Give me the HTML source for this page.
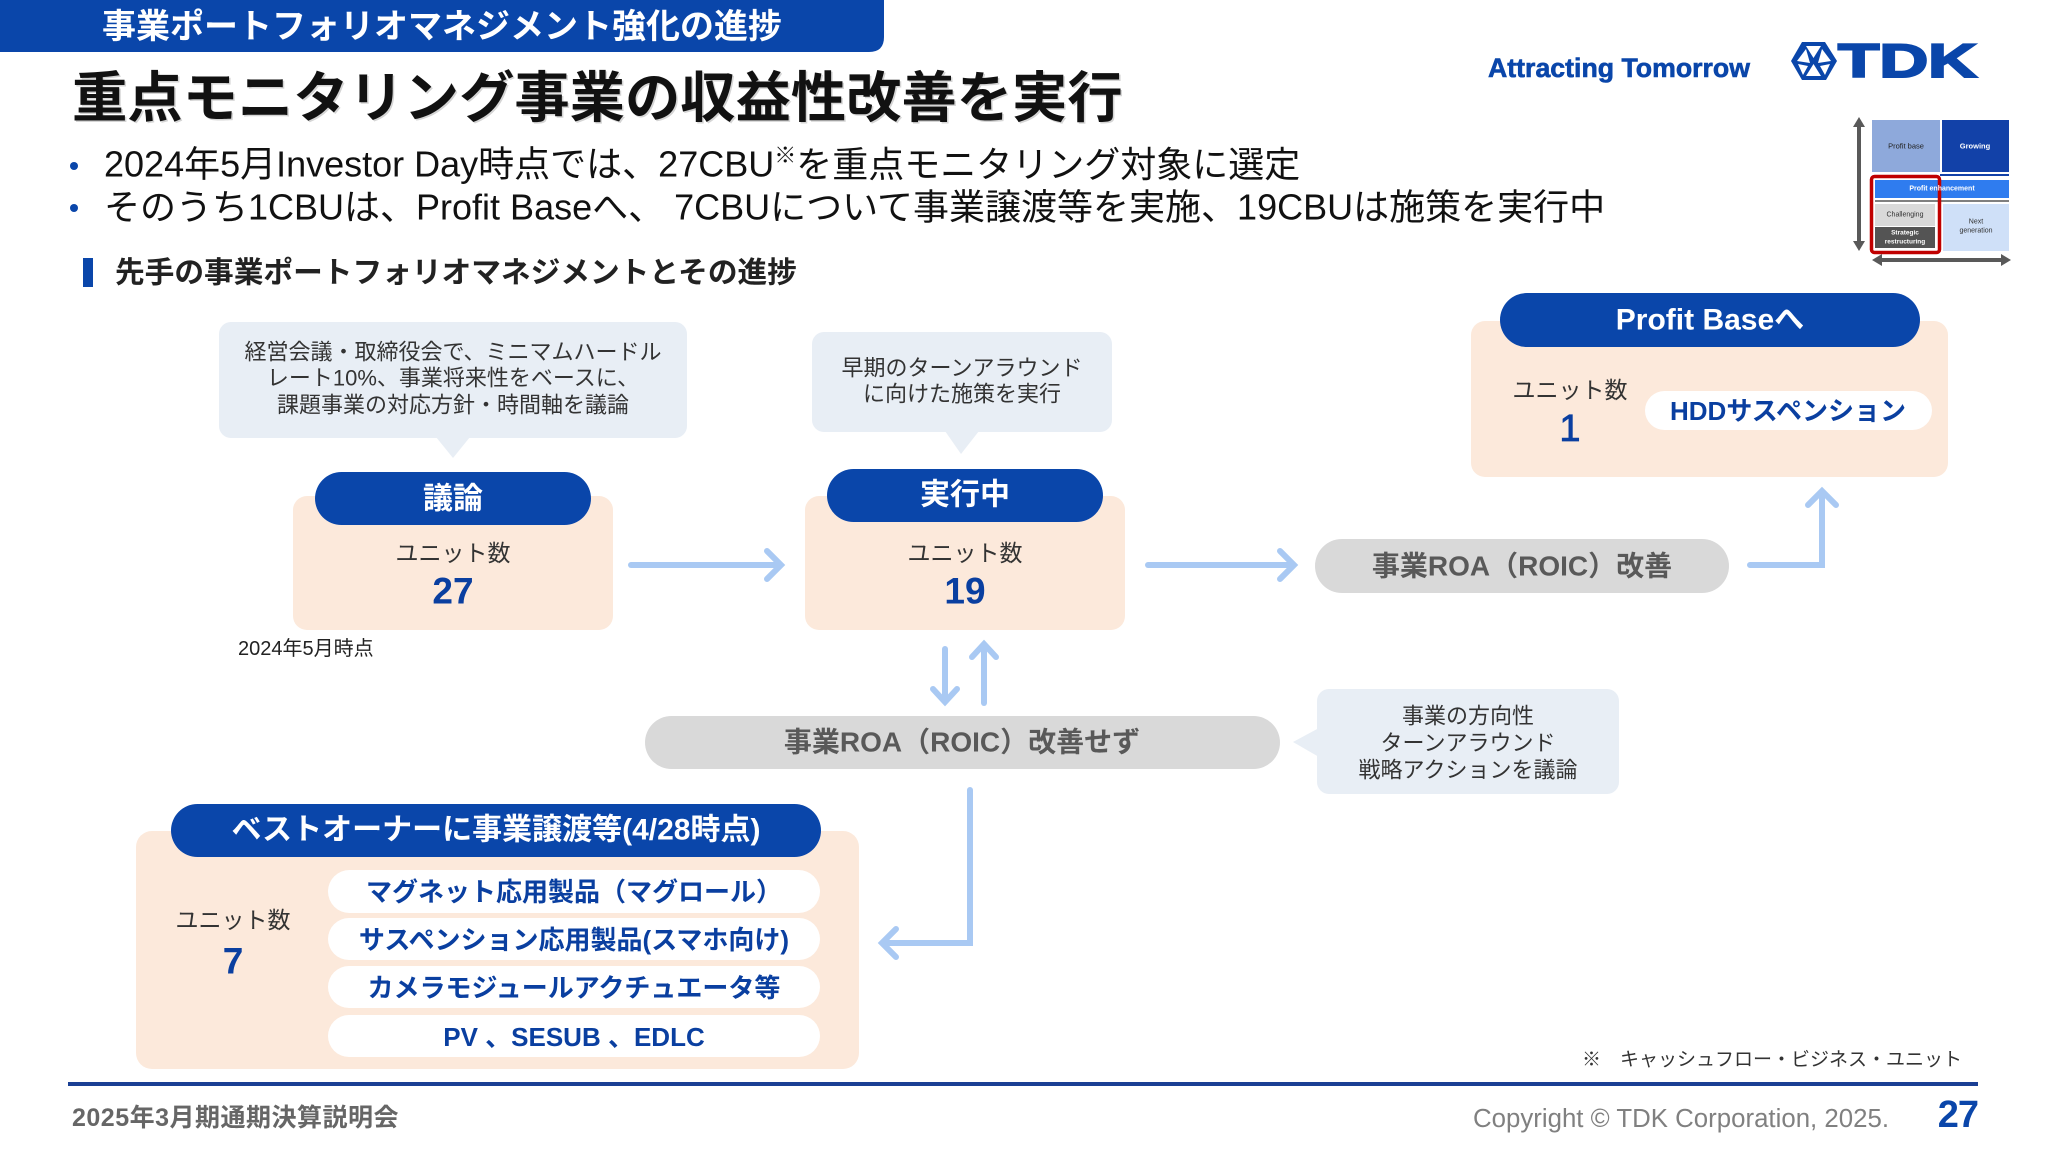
<!DOCTYPE html>
<html><head><meta charset="utf-8">
<style>
html,body{margin:0;padding:0;background:#fff;}
svg{display:block;}
text{font-family:"Liberation Sans","Noto Sans CJK JP",sans-serif;}
</style></head><body>
<svg width="2048" height="1152" viewBox="0 0 2048 1152" xmlns="http://www.w3.org/2000/svg">
<rect width="2048" height="1152" fill="#ffffff"/>

<!-- header tab -->
<path d="M0 0 H884 V37 Q884 52 869 52 H0 Z" fill="#0a46aa"/>
<text x="102" y="27" font-size="34" font-weight="bold" fill="#ffffff" dominant-baseline="central">事業ポートフォリオマネジメント強化の進捗</text>

<!-- title -->
<text x="73.5" y="99.5" font-size="55.3" font-weight="bold" fill="#888" opacity="0.35" dominant-baseline="central">重点モニタリング事業の収益性改善を実行</text>
<text x="72" y="98" font-size="55.3" font-weight="bold" fill="#111" dominant-baseline="central">重点モニタリング事業の収益性改善を実行</text>

<!-- bullets -->
<circle cx="74" cy="166" r="4" fill="#0a46aa"/>
<circle cx="74" cy="208" r="4" fill="#0a46aa"/>
<text x="104" y="164" font-size="36" fill="#111" dominant-baseline="central">2024年5月Investor Day時点では、27CBU<tspan font-size="22" dy="-9">※</tspan><tspan dy="9">を重点モニタリング対象に選定</tspan></text>
<text x="104" y="207" font-size="36" fill="#111" dominant-baseline="central">そのうち1CBUは、Profit Baseへ、 7CBUについて事業譲渡等を実施、19CBUは施策を実行中</text>

<!-- section heading -->
<rect x="83" y="258" width="10" height="29" fill="#0a46aa"/>
<text x="115" y="273" font-size="29.7" font-weight="bold" fill="#222" dominant-baseline="central">先手の事業ポートフォリオマネジメントとその進捗</text>

<!-- Attracting Tomorrow + TDK logo -->
<text x="1488" y="77" font-size="26.5" font-weight="bold" fill="#0a46aa" stroke="#0a46aa" stroke-width="0.6" textLength="262" lengthAdjust="spacingAndGlyphs">Attracting Tomorrow</text>
<g>
  <polygon points="1802,42 1825,42 1837,61 1826,80 1802,80 1791,61" fill="#0a46aa"/>
  <polygon points="1806,46 1821,46 1813.5,58" fill="#fff"/>
  <polygon points="1797,61 1806,49 1810,63" fill="#fff"/>
  <polygon points="1831,61 1822,49 1818,63" fill="#fff"/>
  <polygon points="1806,76 1813.5,64 1821,76" fill="#fff"/>
  <polygon points="1798,64 1808,66 1803,75" fill="#fff"/>
  <polygon points="1830,64 1820,66 1825,75" fill="#fff"/>
</g>
<text x="1838" y="77" font-size="47" font-weight="bold" fill="#0a46aa" stroke="#0a46aa" stroke-width="2" textLength="139" lengthAdjust="spacingAndGlyphs">TDK</text>

<!-- matrix icon -->
<g>
  <rect x="1872" y="120" width="68" height="52" fill="#8ea9db"/>
  <rect x="1942" y="120" width="67" height="52" fill="#1241a8"/>
  <rect x="1940" y="174" width="69" height="2" fill="#1241a8"/>
  <rect x="1875" y="180" width="134" height="18" fill="#2f7cef"/>
  <rect x="1875" y="200" width="134" height="2" fill="#7f7f7f"/>
  <rect x="1875" y="204" width="60" height="22" fill="#d9d9d9"/>
  <rect x="1875" y="227" width="60" height="21" fill="#545454"/>
  <rect x="1943" y="204" width="66" height="47" fill="#cfe0f8"/>
  <rect x="1871.5" y="176.5" width="68" height="76" rx="3" fill="none" stroke="#c00000" stroke-width="3.5"/>
  <text x="1906" y="146" font-size="7.5" fill="#222" text-anchor="middle" dominant-baseline="central">Profit base</text>
  <text x="1975" y="146" font-size="7.5" font-weight="bold" fill="#fff" text-anchor="middle" dominant-baseline="central">Growing</text>
  <text x="1942" y="189" font-size="7" font-weight="bold" fill="#fff" text-anchor="middle" dominant-baseline="central">Profit enhancement</text>
  <text x="1905" y="215" font-size="7" fill="#333" text-anchor="middle" dominant-baseline="central">Challenging</text>
  <text x="1905" y="233" font-size="6.5" font-weight="bold" fill="#fff" text-anchor="middle" dominant-baseline="central">Strategic</text>
  <text x="1905" y="242" font-size="6.5" font-weight="bold" fill="#fff" text-anchor="middle" dominant-baseline="central">restructuring</text>
  <text x="1976" y="222" font-size="7" fill="#333" text-anchor="middle" dominant-baseline="central">Next</text>
  <text x="1976" y="231" font-size="7" fill="#333" text-anchor="middle" dominant-baseline="central">generation</text>
  <line x1="1859" y1="124" x2="1859" y2="244" stroke="#595959" stroke-width="4"/>
  <polygon points="1859,117 1853,127 1865,127" fill="#595959"/>
  <polygon points="1859,251 1853,241 1865,241" fill="#595959"/>
  <line x1="1879" y1="260" x2="2004" y2="260" stroke="#595959" stroke-width="4"/>
  <polygon points="1872,260 1882,254 1882,266" fill="#595959"/>
  <polygon points="2011,260 2001,254 2001,266" fill="#595959"/>
</g>

<!-- callout 1 -->
<rect x="219" y="322" width="468" height="116" rx="12" fill="#e8eef5"/>
<polygon points="436,437 470,437 453,458" fill="#e8eef5"/>
<g font-size="22" fill="#333" text-anchor="middle">
<text x="453" y="352" dominant-baseline="central">経営会議・取締役会で、ミニマムハードル</text>
<text x="453" y="378" dominant-baseline="central">レート10%、事業将来性をベースに、</text>
<text x="453" y="405" dominant-baseline="central">課題事業の対応方針・時間軸を議論</text>
</g>

<!-- callout 2 -->
<rect x="812" y="332" width="300" height="100" rx="12" fill="#e8eef5"/>
<polygon points="945,431 979,431 961,454" fill="#e8eef5"/>
<g font-size="22" fill="#333" text-anchor="middle">
<text x="962" y="368" dominant-baseline="central">早期のターンアラウンド</text>
<text x="962" y="394" dominant-baseline="central">に向けた施策を実行</text>
</g>

<!-- box 1 議論 -->
<rect x="293" y="496" width="320" height="134" rx="14" fill="#fce9db"/>
<rect x="315" y="472" width="276" height="53" rx="26.5" fill="#0a46aa"/>
<text x="453" y="499" font-size="30" font-weight="bold" fill="#fff" text-anchor="middle" dominant-baseline="central">議論</text>
<text x="453" y="553" font-size="23" fill="#333" text-anchor="middle" dominant-baseline="central">ユニット数</text>
<text x="453" y="591" font-size="37" font-weight="bold" fill="#0a3fa0" text-anchor="middle" dominant-baseline="central">27</text>
<text x="238" y="649" font-size="20" fill="#222" dominant-baseline="central">2024年5月時点</text>

<!-- box 2 実行中 -->
<rect x="805" y="496" width="320" height="134" rx="14" fill="#fce9db"/>
<rect x="827" y="469" width="276" height="53" rx="26.5" fill="#0a46aa"/>
<text x="965" y="495" font-size="30" font-weight="bold" fill="#fff" text-anchor="middle" dominant-baseline="central">実行中</text>
<text x="965" y="553" font-size="23" fill="#333" text-anchor="middle" dominant-baseline="central">ユニット数</text>
<text x="965" y="591" font-size="37" font-weight="bold" fill="#0a3fa0" text-anchor="middle" dominant-baseline="central">19</text>

<!-- Profit Base box -->
<rect x="1471" y="321" width="477" height="156" rx="14" fill="#fce9db"/>
<rect x="1500" y="293" width="420" height="54" rx="27" fill="#0a46aa"/>
<text x="1710" y="320" font-size="30" font-weight="bold" fill="#fff" text-anchor="middle" dominant-baseline="central">Profit Baseへ</text>
<text x="1570" y="390" font-size="23" fill="#333" text-anchor="middle" dominant-baseline="central">ユニット数</text>
<text x="1570" y="429" font-size="38" fill="#0a3fa0" stroke="#0a3fa0" stroke-width="0.8" text-anchor="middle" dominant-baseline="central">1</text>
<rect x="1645" y="391" width="287" height="39" rx="19.5" fill="#fff"/>
<text x="1788" y="411" font-size="26" font-weight="bold" fill="#0a3fa0" text-anchor="middle" dominant-baseline="central">HDDサスペンション</text>

<!-- ROA improved pill -->
<rect x="1315" y="539" width="414" height="54" rx="27" fill="#d9d9d9"/>
<text x="1522" y="566" font-size="28" font-weight="bold" fill="#595959" text-anchor="middle" dominant-baseline="central">事業ROA（ROIC）改善</text>

<!-- ROA not improved pill -->
<rect x="645" y="716" width="635" height="53" rx="26.5" fill="#d9d9d9"/>
<text x="962" y="742" font-size="28" font-weight="bold" fill="#595959" text-anchor="middle" dominant-baseline="central">事業ROA（ROIC）改善せず</text>

<!-- right callout -->
<rect x="1317" y="689" width="302" height="105" rx="12" fill="#e8eef5"/>
<polygon points="1319,728 1319,757 1293,742" fill="#e8eef5"/>
<g font-size="22" fill="#333" text-anchor="middle">
<text x="1468" y="716" dominant-baseline="central">事業の方向性</text>
<text x="1468" y="743" dominant-baseline="central">ターンアラウンド</text>
<text x="1468" y="770" dominant-baseline="central">戦略アクションを議論</text>
</g>

<!-- bottom box -->
<rect x="136" y="831" width="723" height="238" rx="16" fill="#fce9db"/>
<rect x="171" y="804" width="650" height="53" rx="26.5" fill="#0a46aa"/>
<text x="496" y="830" font-size="30" font-weight="bold" fill="#fff" text-anchor="middle" dominant-baseline="central">ベストオーナーに事業譲渡等(4/28時点)</text>
<text x="233" y="920" font-size="23" fill="#333" text-anchor="middle" dominant-baseline="central">ユニット数</text>
<text x="233" y="961" font-size="37" font-weight="bold" fill="#0a3fa0" text-anchor="middle" dominant-baseline="central">7</text>
<rect x="328" y="870" width="492" height="43" rx="21.5" fill="#fff"/>
<rect x="328" y="918" width="492" height="42" rx="21" fill="#fff"/>
<rect x="328" y="966" width="492" height="42" rx="21" fill="#fff"/>
<rect x="328" y="1015" width="492" height="42" rx="21" fill="#fff"/>
<g font-size="26" font-weight="bold" fill="#0a3fa0" text-anchor="middle">
<text x="574" y="892" dominant-baseline="central">マグネット応用製品（マグロール）</text>
<text x="574" y="940" dominant-baseline="central">サスペンション応用製品(スマホ向け)</text>
<text x="574" y="988" dominant-baseline="central">カメラモジュールアクチュエータ等</text>
<text x="574" y="1037" dominant-baseline="central">PV 、SESUB 、EDLC</text>
</g>

<!-- arrows -->
<g fill="none" stroke="#a9c9f3" stroke-width="6" stroke-linecap="round" stroke-linejoin="miter">
  <path d="M631 565 H779"/>
  <path d="M767 551 L781 565 L767 579"/>
  <path d="M1148 565 H1292"/>
  <path d="M1280 551 L1294 565 L1280 579"/>
  <path d="M1750 565 H1822 V493"/>
  <path d="M1808 505 L1822 491 L1836 505"/>
  <path d="M945 649 V700"/>
  <path d="M933 689 L945 702 L957 689"/>
  <path d="M984 703 V646"/>
  <path d="M972 657 L984 644 L996 657"/>
  <path d="M970 790 V943 H884"/>
  <path d="M896 929 L882 943 L896 957"/>
</g>

<!-- note -->
<text x="1962" y="1060" font-size="19" fill="#333" text-anchor="end" dominant-baseline="central">※　キャッシュフロー・ビジネス・ユニット</text>

<!-- footer -->
<rect x="68" y="1082" width="1910" height="4" fill="#1a3f94"/>
<text x="72" y="1118" font-size="25" font-weight="bold" fill="#666" dominant-baseline="central" letter-spacing="0.5">2025年3月期通期決算説明会</text>
<text x="1889" y="1119" font-size="25.5" fill="#808080" text-anchor="end" dominant-baseline="central" textLength="416" lengthAdjust="spacingAndGlyphs">Copyright © TDK Corporation, 2025.</text>
<text x="1978" y="1115" font-size="38" font-weight="bold" fill="#0a46aa" text-anchor="end" dominant-baseline="central" letter-spacing="-1">27</text>
</svg>
</body></html>
